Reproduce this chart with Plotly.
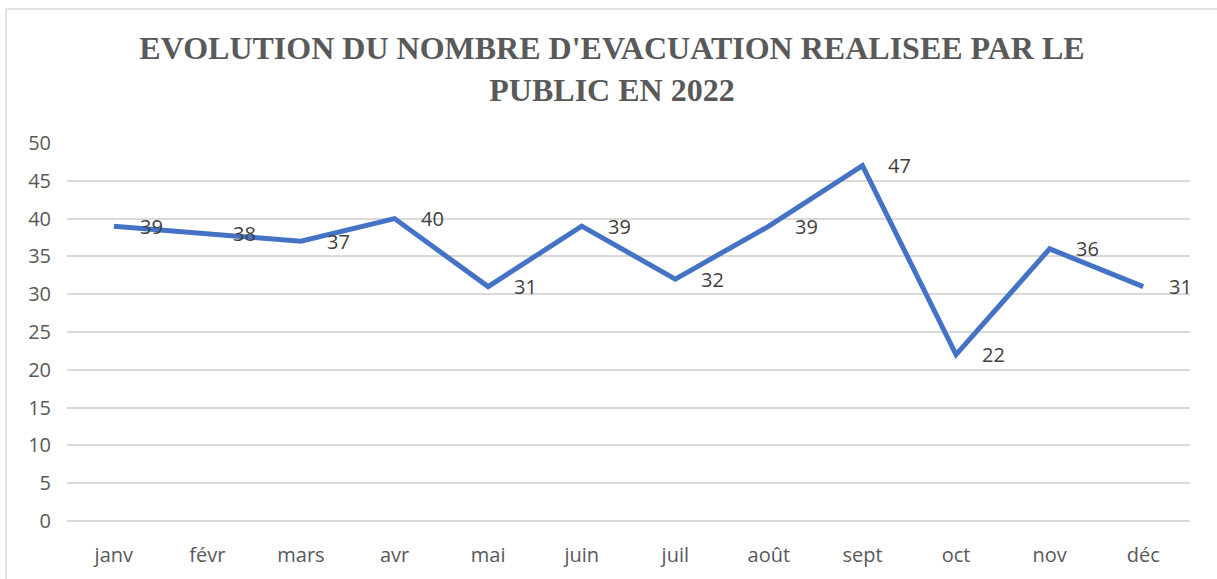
import plotly.graph_objects as go

months = ["janv", "févr", "mars", "avr", "mai", "juin", "juil", "août", "sept", "oct", "nov", "déc"]
values = [39, 38, 37, 40, 31, 39, 32, 39, 47, 22, 36, 31]
y_ticks = list(range(0, 55, 5))
title_text = "EVOLUTION DU NOMBRE D'EVACUATION REALISEE PAR LE<br>PUBLIC EN 2022"

W, H = 1217, 579
L, R, T, B = 67, 1217 - 1190, 143, 579 - 521
pw, ph = W - L - R, H - T - B

fig = go.Figure()
fig.add_trace(go.Scatter(
    x=months, y=values, mode="lines",
    line=dict(color="#4472C4", width=5),
    hoverinfo="skip", showlegend=False,
))

for m, v in zip(months, values):
    fig.add_annotation(
        x=m, y=v, text=str(v), showarrow=False,
        xanchor="left", yanchor="middle", xshift=24,
        font=dict(family="Open Sans", size=20, color="#404040"),
    )

# chart-area border (top and left visible)
bx = (6 - L) / pw
by = 1 + (T - 9) / ph
fig.add_shape(type="line", xref="paper", yref="paper", x0=bx, x1=1.1, y0=by, y1=by,
              line=dict(color="#D9D9D9", width=1.5))
fig.add_shape(type="line", xref="paper", yref="paper", x0=bx, x1=bx, y0=by, y1=-0.3,
              line=dict(color="#D9D9D9", width=1.5))

fig.update_layout(
    width=W, height=H,
    margin=dict(l=L, r=R, t=T, b=B),
    paper_bgcolor="white", plot_bgcolor="white",
    title=dict(
        text=title_text, x=612 / W, xanchor="center", xref="container",
        y=1 - 59 / H, yanchor="middle", yref="container",
        font=dict(family="Liberation Serif", size=32, color="#595959", weight="bold"),
    ),
    xaxis=dict(
        type="category", categoryorder="array", categoryarray=months,
        range=[-0.5, len(months) - 0.5],
        showgrid=False, showline=False, zeroline=False,
        tickfont=dict(family="Open Sans", size=20, color="#595959"),
        ticks="", ticklabelstandoff=20,
    ),
    yaxis=dict(
        range=[0, 50], tickvals=y_ticks, ticktext=[str(t) for t in y_ticks],
        showgrid=True, gridcolor="#D9D9D9", gridwidth=1.5,
        zeroline=True, zerolinecolor="#D9D9D9", zerolinewidth=1.5,
        showline=False,
        tickfont=dict(family="Open Sans", size=20, color="#595959"),
        ticks="", ticklabelstandoff=15,
    ),
)

fig.write_html("out.html", config={"displayModeBar": False},
               post_script="document.body.style.margin='0';")
